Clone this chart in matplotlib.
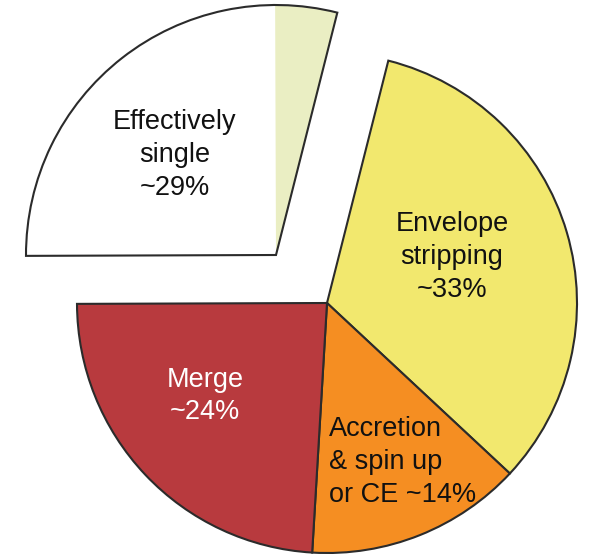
import matplotlib
matplotlib.use("Agg")
import matplotlib.pyplot as plt

# Data
categories = ["Envelope stripping", "Accretion & spin up or CE", "Merge", "Effectively single"]
shares = [33, 14, 24, 29]
labels = ["Envelope\nstripping\n~33%", "Accretion\n& spin up\nor CE ~14%", "Merge\n~24%", "Effectively\nsingle\n~29%"]
single_split = [25, 4]  # white part, light-green part of "Effectively single"

colors = ["#F2E86E", "#F58E22", "#B83A3E"]
single_colors = ["#FFFFFF", "#EAEEC3"]
edge = "#2b2b2b"

plt.rcParams["font.family"] = ["Liberation Sans", "DejaVu Sans"]

fig = plt.figure(figsize=(5.90, 5.58), dpi=100)
ax = fig.add_axes([0, 0, 1, 1])
ax.set_axis_off()

R = 250
main_center = (327, 255)
single_center = (276, 303)
start = 75.8

# main pie (three visible wedges + hidden gap for the exploded slice)
w_main, _ = ax.pie(shares, radius=R, center=main_center, startangle=start,
                   counterclock=False, colors=colors + ["none"],
                   wedgeprops=dict(edgecolor=edge, linewidth=1.5))
w_main[3].set_edgecolor("none")

# exploded "Effectively single" slice: fills without edge
rest = sum(shares) - sum(single_split)
w_fill, _ = ax.pie(single_split + [rest], radius=R, center=single_center,
                   startangle=start + 360 * shares[3] / sum(shares), counterclock=False,
                   colors=single_colors + ["none"], wedgeprops=dict(linewidth=0))
# outline of exploded slice
w_out, _ = ax.pie([shares[3], sum(shares) - shares[3]], radius=R, center=single_center,
                  startangle=start + 360 * shares[3] / sum(shares), counterclock=False,
                  colors=["none", "none"],
                  wedgeprops=dict(edgecolor=edge, linewidth=1.5))
w_out[1].set_edgecolor("none")

fs = 19.5
ls = 1.33
ax.text(452, 301, labels[0], ha="center", va="center", fontsize=fs, color="#111111", linespacing=ls)
ax.text(329, 96, labels[1], ha="left", va="center", fontsize=fs, color="#111111", linespacing=ls)
ax.text(205, 162, labels[2], ha="center", va="center", fontsize=fs, color="white", linespacing=ls)
ax.text(175, 403, labels[3], ha="center", va="center", fontsize=fs, color="#111111", linespacing=ls)

ax.set_xlim(0, 590)
ax.set_ylim(0, 558)
ax.set_aspect("equal")

fig.savefig("out.png", dpi=100, facecolor="white")
